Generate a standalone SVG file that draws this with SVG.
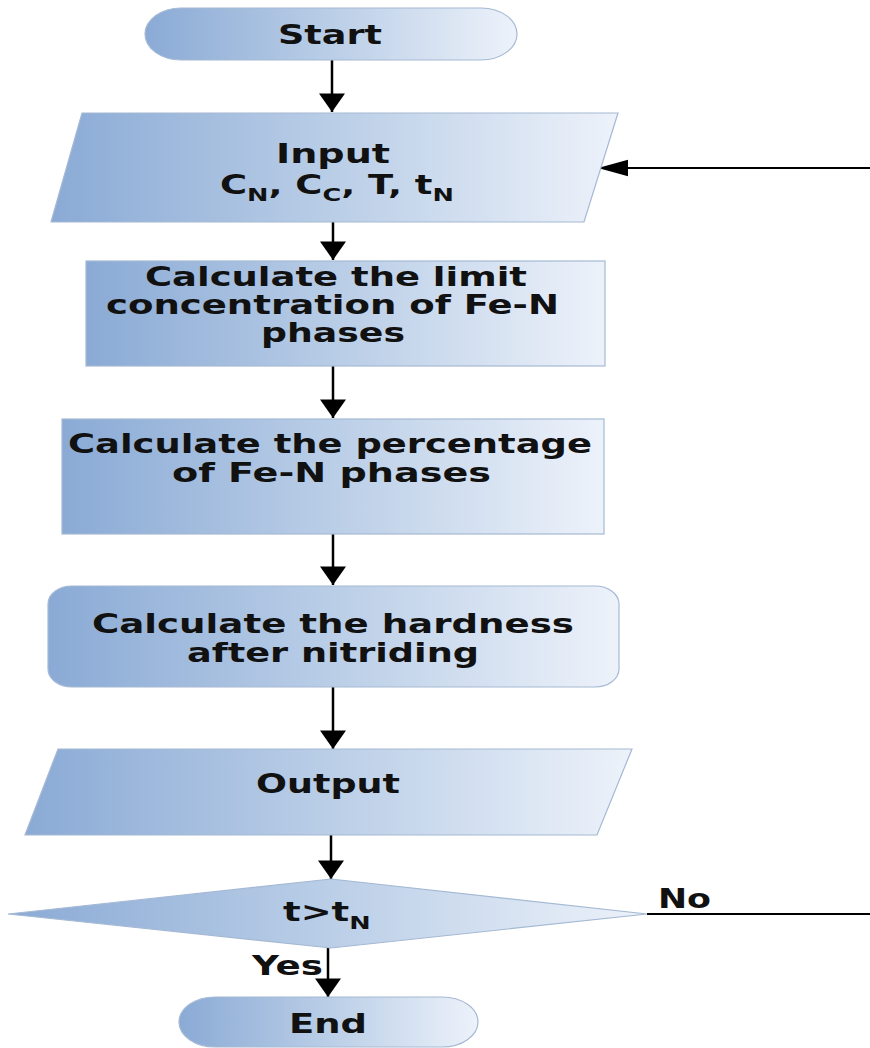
<svg xmlns="http://www.w3.org/2000/svg" width="870" height="1048" viewBox="0 0 870 1048">
<defs>
<linearGradient id="g" x1="0" y1="0" x2="1" y2="0">
<stop offset="0" stop-color="#8aaad5"/>
<stop offset="0.5" stop-color="#bacee7"/>
<stop offset="1" stop-color="#edf2fa"/>
</linearGradient>
<marker id="av" markerUnits="userSpaceOnUse" markerWidth="20" markerHeight="26" refX="17" refY="12" orient="auto" viewBox="0 0 17 24">
<path d="M0,0 L17,12 L0,24 z" fill="#000"/>
</marker>
<marker id="ah" markerUnits="userSpaceOnUse" markerWidth="30" markerHeight="18" refX="29" refY="8" orient="auto" viewBox="0 0 29 16">
<path d="M0,0 L29,8 L0,16 z" fill="#000"/>
</marker>
<style>
.s{fill:url(#g);stroke:#a5b9d4;stroke-width:1.2}
.t{font-family:"DejaVu Sans","Liberation Sans",sans-serif;font-weight:bold;font-size:26px;fill:#111}
.v{stroke:#000;stroke-width:2.5;fill:none;marker-end:url(#av)}
.h{stroke:#000;stroke-width:2;fill:none}
</style>
</defs>
<g id="connectors">
<line class="v" x1="332" y1="60" x2="332" y2="112"/>
<line class="v" x1="333" y1="222" x2="333" y2="260"/>
<line class="v" x1="333" y1="366" x2="333" y2="418"/>
<line class="v" x1="333" y1="534" x2="333" y2="585"/>
<line class="v" x1="333" y1="687" x2="333" y2="749"/>
<line class="v" x1="331" y1="835" x2="331" y2="879"/>
<line class="v" x1="328" y1="948" x2="328" y2="997"/>
<line class="h" x1="647" y1="914" x2="870" y2="914"/>
<line class="h" x1="870" y1="168" x2="598" y2="168" style="marker-end:url(#ah)"/>
<text class="t" x="658" y="908" textLength="53" lengthAdjust="spacingAndGlyphs">No</text>
<text class="t" x="252" y="975" textLength="71" lengthAdjust="spacingAndGlyphs">Yes</text>
</g>
<g id="start">
<rect class="s" x="145" y="8" width="372" height="52" rx="36" ry="26"/>
<text class="t" x="278" y="44" textLength="104" lengthAdjust="spacingAndGlyphs">Start</text>
</g>
<g id="input">
<polygon class="s" points="82,113 618,113 584,222 51,222"/>
<text class="t" x="276" y="163" textLength="114" lengthAdjust="spacingAndGlyphs">Input</text>
<text class="t" transform="translate(220,194) scale(1.42,1)" x="0" y="0">C<tspan font-size="18" dy="7">N</tspan><tspan dy="-7">, C</tspan><tspan font-size="18" dy="7">C</tspan><tspan dy="-7">, T, t</tspan><tspan font-size="18" dy="7">N</tspan></text>
</g>
<g id="limit">
<rect class="s" x="86" y="261" width="519" height="105"/>
<text class="t" x="145" y="286" textLength="382" lengthAdjust="spacingAndGlyphs">Calculate the limit</text>
<text class="t" x="106" y="314" textLength="453" lengthAdjust="spacingAndGlyphs">concentration of Fe-N</text>
<text class="t" x="261" y="342" textLength="144" lengthAdjust="spacingAndGlyphs">phases</text>
</g>
<g id="percentage">
<rect class="s" x="62" y="419" width="542" height="115"/>
<text class="t" x="68" y="453" textLength="524" lengthAdjust="spacingAndGlyphs">Calculate the percentage</text>
<text class="t" x="172" y="482" textLength="319" lengthAdjust="spacingAndGlyphs">of Fe-N phases</text>
</g>
<g id="hardness">
<rect class="s" x="48" y="586" width="571" height="101" rx="24" ry="18"/>
<text class="t" x="92" y="633" textLength="482" lengthAdjust="spacingAndGlyphs">Calculate the hardness</text>
<text class="t" x="187" y="662" textLength="292" lengthAdjust="spacingAndGlyphs">after nitriding</text>
</g>
<g id="output">
<polygon class="s" points="58,749 632,749 597,835 25,835"/>
<text class="t" x="256" y="793" textLength="144" lengthAdjust="spacingAndGlyphs">Output</text>
</g>
<g id="decision">
<polygon class="s" points="8,914 331,879 647,914 331,948"/>
<text class="t" transform="translate(283,921) scale(1.42,1)" x="0" y="0">t&gt;t<tspan font-size="18" dy="8">N</tspan></text>
</g>
<g id="end">
<rect class="s" x="179" y="997" width="299" height="50" rx="36" ry="25"/>
<text class="t" x="289" y="1033" textLength="78" lengthAdjust="spacingAndGlyphs">End</text>
</g>
</svg>
